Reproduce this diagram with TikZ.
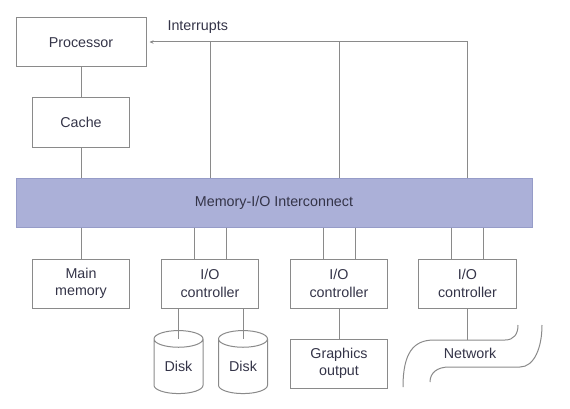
\documentclass[tikz,border=0pt]{standalone}
\usepackage{fontspec}
\setmainfont{Liberation Sans}
\usetikzlibrary{calc, shapes.geometric, arrows.meta}

\definecolor{wire}{RGB}{138,138,138}
\definecolor{ink}{RGB}{52,52,72}
\definecolor{busfill}{RGB}{171,176,216}
\definecolor{busline}{RGB}{150,156,200}

\tikzset{
    unit/.style={draw=wire, line width=1pt, minimum width=97.5pt,
        minimum height=49pt, inner sep=0pt, align=center, text=ink},
    disk/.style={cylinder, shape border rotate=90, aspect=0.6,
        draw=wire, line width=1pt, minimum width=49pt,
        minimum height=63pt, inner sep=0pt, text=ink},
    wired/.style={draw=wire, line width=1pt}
}

\begin{document}
\begin{tikzpicture}[x=1pt, y=-1pt, font=\fontsize{14.3}{17.5}\selectfont]
    \useasboundingbox (0,0) rectangle (570,409);

    \node[unit, minimum width=130pt] (proc) at (81,42.5) {Processor};
    \node[unit] (cache) at (81,122.5) {Cache};
    \node[draw=busline, fill=busfill, line width=1pt, minimum width=516pt,
        minimum height=49pt, inner sep=0pt, text=ink] (bus) at (274,202.5)
        {Memory-I/O Interconnect};

    \node[unit] (mem) at (81,283.5) {Main\\memory};
    \node[unit] (io1) at (210,283.5) {I/O\\controller};
    \node[unit] (io2) at (339,283.5) {I/O\\controller};
    \node[unit] (io3) at (467.5,283.5) {I/O\\controller};

    \node[disk] (d1) at (178.5,366.5) {Disk};
    \node[disk] (d2) at (243,366.5) {Disk};
    \node[unit] (gfx) at (339,363.5) {Graphics\\output};
    \node[text=ink] (net) at (470,353) {Network};

    \coordinate (irq) at (467.5,42);
    \coordinate (netline) at (467.5,340);

    % processor side
    \draw[wired] (proc) -- (cache);
    \draw[wired] (cache) -- (cache |- bus.north);
    \draw[wired] (mem |- bus.south) -- (mem);

    % interrupt lines
    \draw[wired, -{Stealth[length=4pt, width=3.5pt]}, shorten >=3pt]
        (irq) -- (proc.east |- irq);
    \node[text=ink, anchor=west] (irqlabel) at (164,27) {Interrupts};
    \foreach \c in {io1, io2, io3}
        \draw[wired] (\c |- bus.north) -- (\c |- irq);

    % controllers to the bus
    \foreach \c in {io1, io2, io3} {
        \draw[wired] ([xshift=-16pt]\c.north |- bus.south) -- ([xshift=-16pt]\c.north);
        \draw[wired] ([xshift=16pt]\c.north |- bus.south) -- ([xshift=16pt]\c.north);
    }

    % devices
    \draw[wired] (d1 |- io1.south) -- ([yshift=-9pt]d1.top);
    \draw[wired] (d2 |- io1.south) -- ([yshift=-9pt]d2.top);
    \draw[wired] (io2) -- (gfx);
    \draw[wired] (io3) -- (netline);

    \draw[wired] (403,387) .. controls (403,352) and (414,340) .. (434,340)
        -- (505,340) .. controls (514,340) and (518,334) .. (518,325);
    \draw[wired] (430,382) .. controls (430,373) and (437,367) .. (449,367)
        -- (520,367) .. controls (534,367) and (542,348) .. (542,325);
\end{tikzpicture}
\end{document}
